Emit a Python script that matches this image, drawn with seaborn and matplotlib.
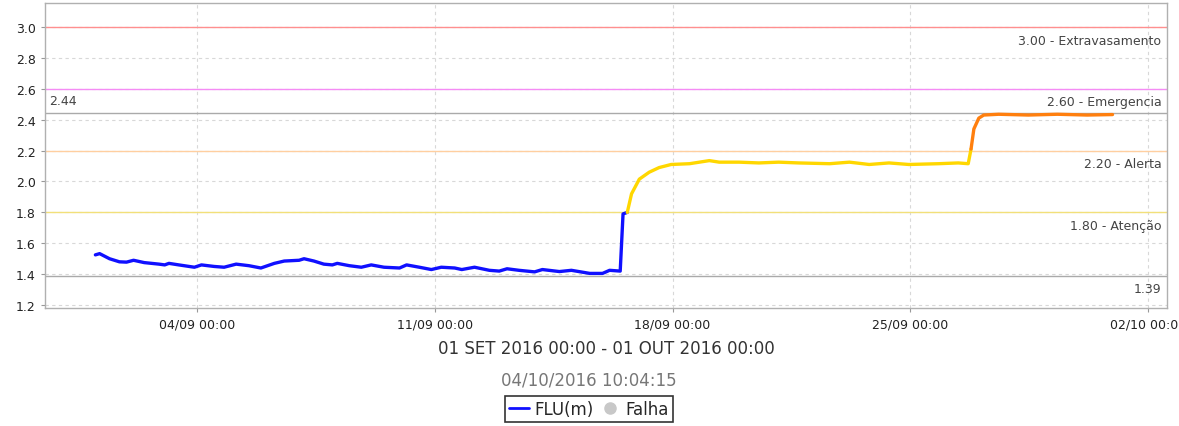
import numpy as np
import pandas as pd
import matplotlib.pyplot as plt
import matplotlib.dates as mdates
from matplotlib.lines import Line2D
import seaborn as sns

# Leituras do sensor FLU(m)
datas = [
    "2016-09-01 00:00", "2016-09-01 03:00", "2016-09-01 10:00", "2016-09-01 17:00", "2016-09-01 22:00",
    "2016-09-02 03:00", "2016-09-02 10:30", "2016-09-02 21:00", "2016-09-03 01:00", "2016-09-03 04:00",
    "2016-09-03 11:00", "2016-09-03 22:00", "2016-09-04 03:00", "2016-09-04 12:00", "2016-09-04 19:00",
    "2016-09-05 03:30", "2016-09-05 12:30", "2016-09-05 21:00", "2016-09-06 06:30", "2016-09-06 13:30",
    "2016-09-07 00:00", "2016-09-07 03:30", "2016-09-07 10:30", "2016-09-07 17:30", "2016-09-07 23:30",
    "2016-09-08 03:00", "2016-09-08 11:30", "2016-09-08 20:00", "2016-09-09 03:00", "2016-09-09 12:00",
    "2016-09-09 23:00", "2016-09-10 04:00", "2016-09-10 13:00", "2016-09-10 21:30", "2016-09-11 04:30",
    "2016-09-11 14:00", "2016-09-11 19:00", "2016-09-12 04:00", "2016-09-12 14:30", "2016-09-12 21:30",
    "2016-09-13 03:00", "2016-09-13 11:30", "2016-09-13 22:30", "2016-09-14 04:00", "2016-09-14 16:00",
    "2016-09-15 00:30", "2016-09-15 13:30", "2016-09-15 22:30", "2016-09-16 03:30", "2016-09-16 11:00",
    "2016-09-16 13:00", "2016-09-16 16:00", "2016-09-16 19:00", "2016-09-17 00:30", "2016-09-17 07:30",
    "2016-09-17 14:30", "2016-09-17 23:00", "2016-09-18 12:00", "2016-09-19 02:00", "2016-09-19 09:00",
    "2016-09-19 23:00", "2016-09-20 13:00", "2016-09-21 03:00", "2016-09-21 17:00", "2016-09-22 15:00",
    "2016-09-23 05:00", "2016-09-23 19:00", "2016-09-24 09:00", "2016-09-24 23:00", "2016-09-25 20:00",
    "2016-09-26 10:00", "2016-09-26 17:00", "2016-09-26 19:00", "2016-09-26 21:00", "2016-09-27 00:30",
    "2016-09-27 04:00", "2016-09-27 14:30", "2016-09-28 11:30", "2016-09-29 08:00", "2016-09-30 05:00",
    "2016-09-30 23:00",
]
nivel = [
    1.525, 1.533, 1.500, 1.480, 1.478,
    1.490, 1.475, 1.465, 1.460, 1.470,
    1.460, 1.445, 1.460, 1.450, 1.445,
    1.465, 1.455, 1.440, 1.470, 1.485,
    1.490, 1.500, 1.485, 1.465, 1.460,
    1.470, 1.455, 1.445, 1.460, 1.445,
    1.440, 1.460, 1.445, 1.430, 1.445,
    1.440, 1.430, 1.445, 1.425, 1.420,
    1.435, 1.425, 1.415, 1.430, 1.417,
    1.425, 1.405, 1.405, 1.425, 1.420,
    1.790, 1.800, 1.920, 2.015, 2.060,
    2.090, 2.110, 2.115, 2.135, 2.125,
    2.125, 2.120, 2.125, 2.120, 2.115,
    2.125, 2.110, 2.120, 2.110, 2.115,
    2.120, 2.115, 2.210, 2.340, 2.410,
    2.430, 2.435, 2.430, 2.435, 2.430,
    2.433,
]

# Cotas de referencia
cotas = [3.00, 2.60, 2.20, 1.80]
cotas_nomes = ["Extravasamento", "Emergencia", "Alerta", "Atenção"]
cotas_cores = ["#ff8f8f", "#f58cf5", "#ffcfa0", "#f2e07a"]
nivel_max = 2.44
nivel_min = 1.39

# cor da linha por faixa: normal, atencao, alerta
cores_faixa = ["#1010ff", "#ffd700", "#ff7f0e"]

df = pd.DataFrame({"data": pd.to_datetime(datas), "nivel": nivel})
df["faixa"] = np.select([df["nivel"] < 1.8, df["nivel"] < 2.2], [0, 1], 2)
df["trecho"] = (df["faixa"] != df["faixa"].shift()).cumsum()

sns.set_style("white")
plt.rcParams["font.family"] = ["DejaVu Sans"]

fig = plt.figure(figsize=(11.79, 4.27), dpi=100)
ax = fig.add_axes([0.038, 0.2763, 0.9518, 0.7143])

# linhas de cota
for c, nome, cor in zip(cotas, cotas_nomes, cotas_cores):
    ax.axhline(c, color=cor, lw=1, zorder=1)
    ax.annotate(f"{c:.2f} - {nome}", xy=(0.995, c), xycoords=("axes fraction", "data"),
                xytext=(0, -9.5), textcoords="offset points", ha="right", va="center",
                fontsize=9, color="#444444")

# maximo e minimo
ax.axhline(nivel_max, color="#aaaaaa", lw=1, zorder=1)
ax.axhline(nivel_min, color="#aaaaaa", lw=1, zorder=1)
ax.annotate(f"{nivel_max:.2f}", xy=(0.004, nivel_max), xycoords=("axes fraction", "data"),
            xytext=(0, 9.5), textcoords="offset points", ha="left", va="center",
            fontsize=9, color="#444444")
ax.annotate(f"{nivel_min:.2f}", xy=(0.995, nivel_min), xycoords=("axes fraction", "data"),
            xytext=(0, -9.5), textcoords="offset points", ha="right", va="center",
            fontsize=9, color="#444444")

# serie, colorida por trecho
for t, seg in df.groupby("trecho"):
    prox = df[df["trecho"] == t + 1].head(1)
    cor = cores_faixa[seg["faixa"].iloc[0]]
    seg = pd.concat([seg, prox])
    sns.lineplot(data=seg, x="data", y="nivel", color=cor, lw=2.4, estimator=None,
                 sort=False, ax=ax, zorder=3)

ax.set_xlim(pd.Timestamp("2016-08-30 12:15"), pd.Timestamp("2016-10-02 13:30"))
ax.set_ylim(1.181, 3.155)
ax.set_yticks(np.arange(1.2, 3.01, 0.2))
ax.yaxis.set_major_formatter(plt.FormatStrFormatter("%.1f"))
ax.set_xticks(pd.to_datetime(["2016-09-04", "2016-09-11", "2016-09-18", "2016-09-25", "2016-10-02"]))
ax.xaxis.set_major_formatter(mdates.DateFormatter("%d/%m %H:%M"))
ax.set_xlabel("")
ax.set_ylabel("")
ax.tick_params(labelsize=9, colors="#222222", length=3, width=0.8, direction="out",
               left=True, bottom=True, color="#999999")
ax.grid(True, linestyle=(0, (3, 3)), color="#d8d8d8", lw=0.8)
for s in ax.spines.values():
    s.set_color("#b0b0b0")
    s.set_linewidth(1)

fig.text(0.514, 1 - 349 / 427, "01 SET 2016 00:00 - 01 OUT 2016 00:00", ha="center", va="center",
         fontsize=12, color="#333333")
fig.text(0.499, 1 - 381 / 427, "04/10/2016 10:04:15", ha="center", va="center",
         fontsize=12, color="#777777")

handles = [Line2D([], [], color="#1010ff", lw=2),
           Line2D([], [], color="#c8c8c8", marker="o", ls="none", markersize=8)]
leg = fig.legend(handles, ["FLU(m)", "Falha"], loc="center", bbox_to_anchor=(0.4996, 1 - 410 / 427),
                 ncol=2, fontsize=12, frameon=True, fancybox=False, edgecolor="black",
                 handlelength=1.2, handletextpad=0.3, columnspacing=0.4, borderpad=0.25,
                 borderaxespad=0)
leg.get_frame().set_linewidth(1.2)

fig.savefig("out.png", dpi=100)
